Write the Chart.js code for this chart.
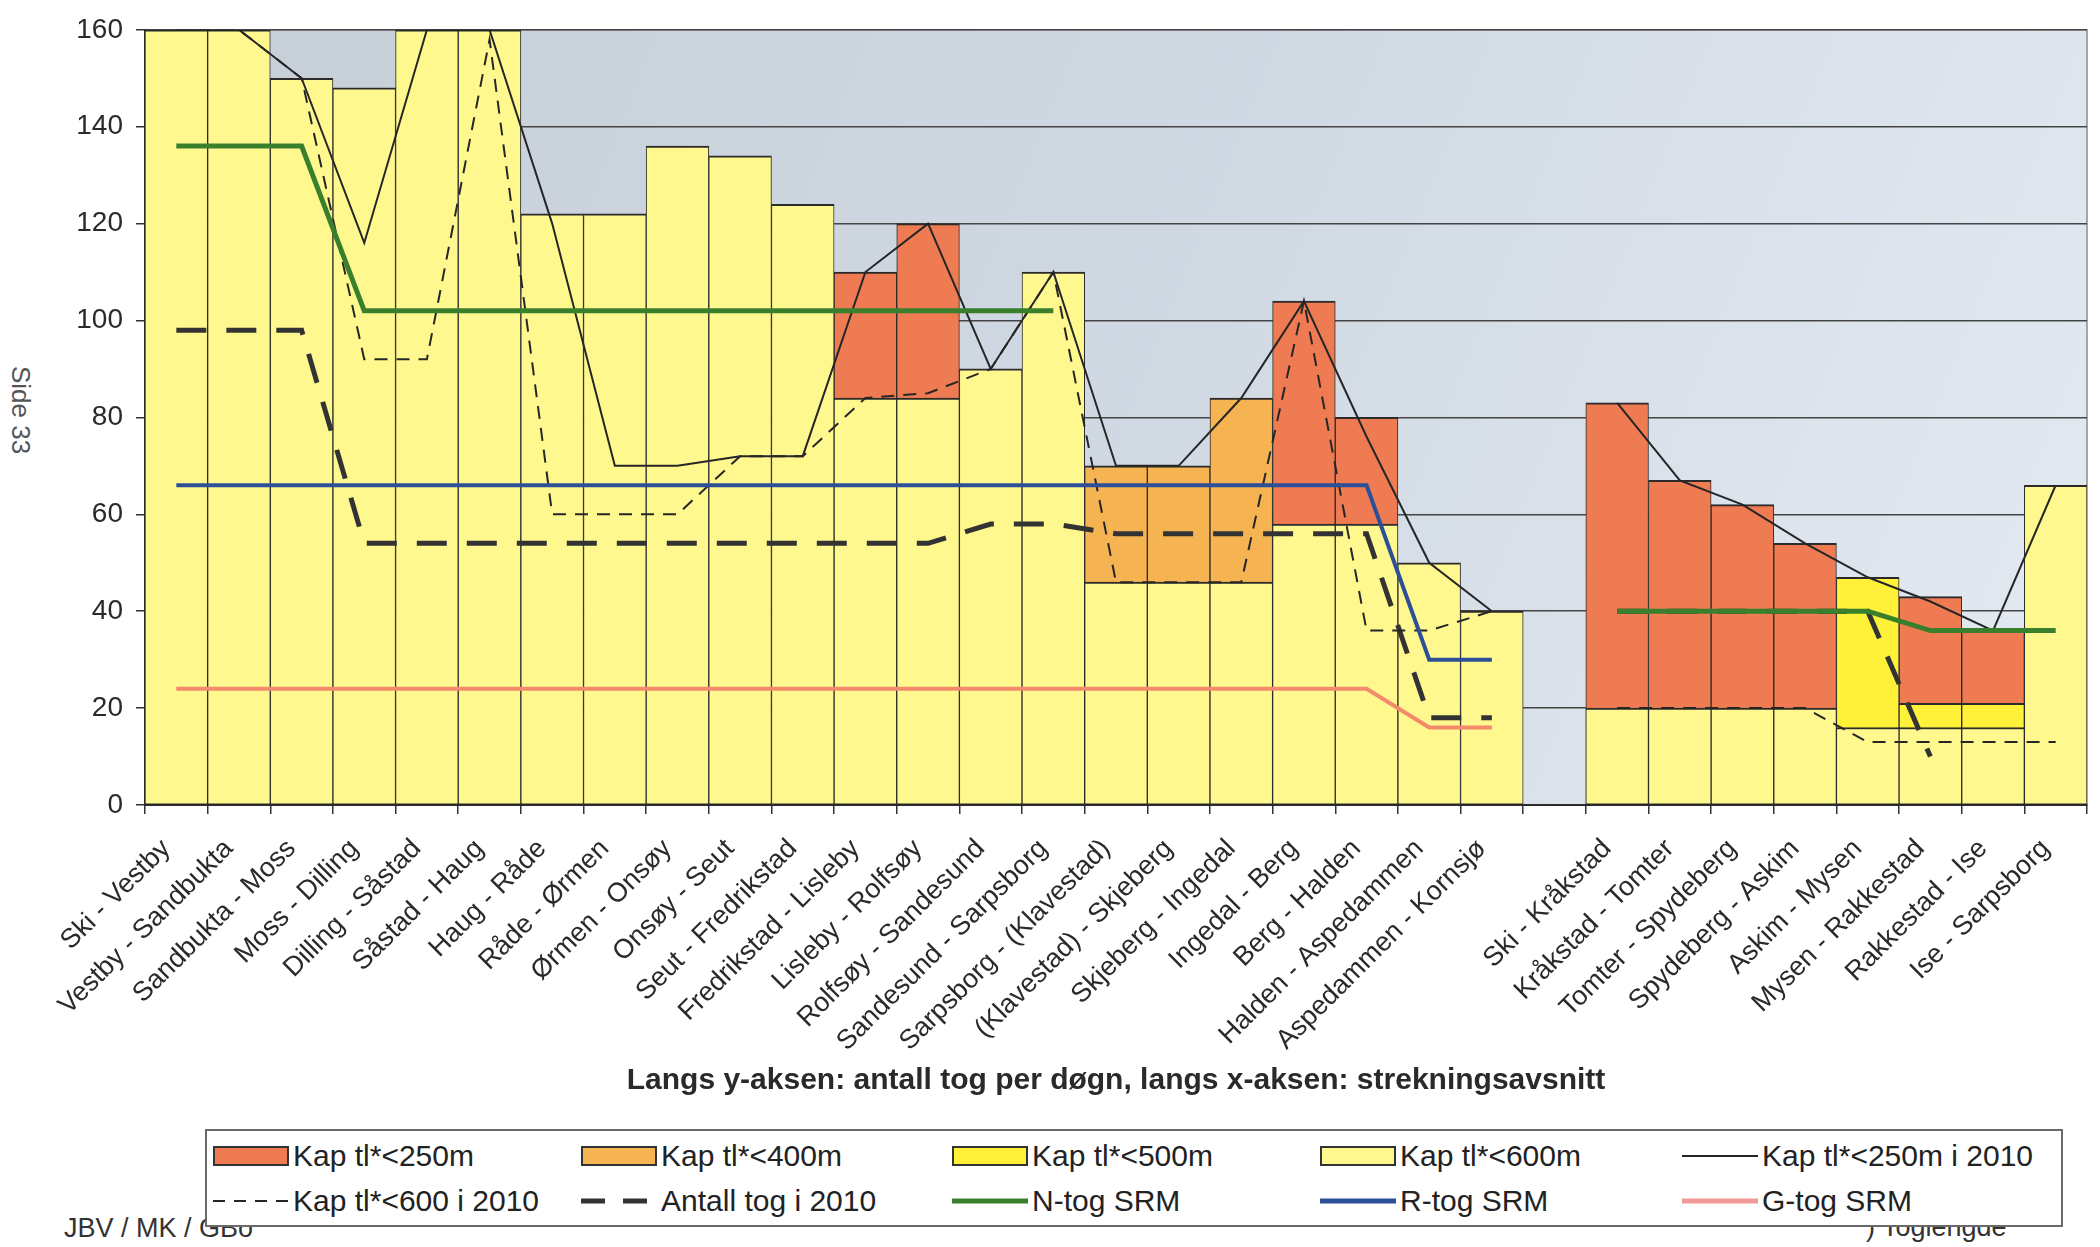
<!DOCTYPE html>
<html lang="no">
<head>
<meta charset="utf-8">
<title>Kapasitet og antall tog per strekningsavsnitt</title>
<script src="https://cdn.jsdelivr.net/npm/chart.js@4.4.1/dist/chart.umd.min.js"></script>
<style>
    html, body { margin: 0; padding: 0; background: #fff; }
    body { width: 2100px; height: 1247px; position: relative; overflow: hidden; font-family: "Liberation Sans", Arial, sans-serif; color: #222; }
    #chart { position: absolute; left: 0; top: 0; }
    .side { position: absolute; left: 5px; top: 366px; font-size: 26px; color: #555; writing-mode: vertical-rl; }
    .foot { position: absolute; font-size: 27px; color: #333; }
    #legend { position: absolute; left: 205px; top: 1129px; width: 1854px; height: 94px; border: 2px solid #6a6a6a; background: #fff; }
    .item { position: absolute; display: flex; align-items: center; font-size: 30px; white-space: nowrap; }
    .box { width: 72px; height: 16px; border: 2px solid #333; margin-right: 4px; }
    .item svg { margin-right: 4px; }
</style>
</head>
<body>
<div class="side">Side 33</div>
<div class="foot" style="left: 64px; top: 1213px;">JBV / MK / GBo</div>
<div class="foot" style="left: 1866px; top: 1212px;">) Toglengde</div>
<canvas id="chart" width="2100" height="1247"></canvas>
<div id="legend"></div>

<script>
// Strekningsavsnitt (tom kategori skiller Østfoldbanen vestre og østre linje)
const categories = [
    'Ski - Vestby', 'Vestby - Sandbukta', 'Sandbukta - Moss', 'Moss - Dilling', 'Dilling - Såstad',
    'Såstad - Haug', 'Haug - Råde', 'Råde - Ørmen', 'Ørmen - Onsøy', 'Onsøy - Seut',
    'Seut - Fredrikstad', 'Fredrikstad - Lisleby', 'Lisleby - Rolfsøy', 'Rolfsøy - Sandesund',
    'Sandesund - Sarpsborg', 'Sarpsborg - (Klavestad)', '(Klavestad) - Skjeberg', 'Skjeberg - Ingedal',
    'Ingedal - Berg', 'Berg - Halden', 'Halden - Aspedammen', 'Aspedammen - Kornsjø', '',
    'Ski - Kråkstad', 'Kråkstad - Tomter', 'Tomter - Spydeberg', 'Spydeberg - Askim',
    'Askim - Mysen', 'Mysen - Rakkestad', 'Rakkestad - Ise', 'Ise - Sarpsborg'
];

// Kapasitet (tog per døgn) for ulike toglengder
const kap250 = [null, null, null, null, null, null, null, null, null, null, null, 110, 120, null, null, null, null, null, 104, 80, null, null, null, 83, 67, 62, 54, null, 43, 36, null];
const kap400 = [null, null, null, null, null, null, null, null, null, null, null, null, null, null, null, 70, 70, 84, null, null, null, null, null, null, null, null, null, null, null, null, null];
const kap500 = [null, null, null, null, null, null, null, null, null, null, null, null, null, null, null, null, null, null, null, null, null, null, null, null, null, null, null, 47, 21, 21, null];
const kap600 = [160, 160, 150, 148, 160, 160, 122, 122, 136, 134, 124, 84, 84, 90, 110, 46, 46, 46, 58, 58, 50, 40, null, 20, 20, 20, 20, 16, 16, 16, 66];

// Situasjonen i 2010
const kap250i2010 = [160, 160, 150, 116, 160, 160, 120, 70, 70, 72, 72, 110, 120, 90, 110, 70, 70, 84, 104, 76, 50, 40, null, 83, 67, 62, 54, 47, 42, 36, 66];
const kap600i2010 = [160, 160, 150, 92, 92, 158, 60, 60, 60, 72, 72, 84, 85, 90, 110, 46, 46, 46, 104, 36, 36, 40, null, 20, 20, 20, 20, 13, 13, 13, 13];
const antallTog2010 = [98, 98, 98, 54, 54, 54, 54, 54, 54, 54, 54, 54, 54, 58, 58, 56, 56, 56, 56, 56, 18, 18, null, 40, 40, 40, 40, 40, 10, null, null];

// SRM-scenario
const nTogSRM = [136, 136, 136, 102, 102, 102, 102, 102, 102, 102, 102, 102, 102, 102, 102, null, null, null, null, null, null, null, null, 40, 40, 40, 40, 40, 36, 36, 36];
const rTogSRM = [66, 66, 66, 66, 66, 66, 66, 66, 66, 66, 66, 66, 66, 66, 66, 66, 66, 66, 66, 66, 30, 30, null, null, null, null, null, null, null, null, null];
const gTogSRM = [24, 24, 24, 24, 24, 24, 24, 24, 24, 24, 24, 24, 24, 24, 24, 24, 24, 24, 24, 24, 16, 16, null, null, null, null, null, null, null, null, null];

// y-akse
const yMin = 0;
const yMax = 160;
const yStep = 20;

const FONT = '"Liberation Sans", Arial, sans-serif';
const C = {
    red: '#ee7b52',
    orange: '#f5b352',
    yellow: '#fff03a',
    pale: '#fff88e',
    black: '#262626',
    green: '#3a7f2c',
    blue: '#2c4f98',
    salmon: '#f38a6c'
};

function barSet(label, data, color, order) {
    return {
        type: 'bar',
        label: label,
        data: data,
        backgroundColor: color,
        borderColor: '#2b2b2b',
        borderWidth: { top: 2, bottom: 1, left: 1, right: 1 },
        borderSkipped: false,
        grouped: false,
        categoryPercentage: 1,
        barPercentage: 1,
        order: order
    };
}

function lineSet(label, data, color, width, dash, order) {
    return {
        type: 'line',
        label: label,
        data: data,
        borderColor: color,
        backgroundColor: color,
        borderWidth: width,
        borderDash: dash,
        pointRadius: 0,
        tension: 0,
        spanGaps: false,
        fill: false,
        order: order
    };
}

const datasets = [
    barSet('Kap tl*<250m', kap250, C.red, 4),
    barSet('Kap tl*<400m', kap400, C.orange, 3),
    barSet('Kap tl*<500m', kap500, C.yellow, 2),
    barSet('Kap tl*<600m', kap600, C.pale, 1),
    lineSet('Kap tl*<250m i 2010', kap250i2010, C.black, 2, [], 0),
    lineSet('Kap tl*<600 i 2010', kap600i2010, C.black, 2, [13, 9], 0),
    lineSet('Antall tog i 2010', antallTog2010, '#333', 5, [30, 20], 0),
    lineSet('N-tog SRM', nTogSRM, C.green, 5, [], -1),
    lineSet('R-tog SRM', rTogSRM, C.blue, 4, [], -1),
    lineSet('G-tog SRM', gTogSRM, C.salmon, 4, [], -1)
];

// Bakgrunn i plottområdet
const plotBackground = {
    id: 'plotBackground',
    beforeDraw(chart) {
        const a = chart.chartArea;
        const ctx = chart.ctx;
        const g = ctx.createLinearGradient(a.left, a.top, a.right, a.bottom);
        g.addColorStop(0, '#c6ced7');
        g.addColorStop(0.5, '#d0d9e3');
        g.addColorStop(1, '#e4eaf2');
        ctx.save();
        ctx.fillStyle = g;
        ctx.fillRect(a.left, a.top, a.right - a.left, a.bottom - a.top);
        ctx.strokeStyle = '#8c8c8c';
        ctx.lineWidth = 1.5;
        ctx.strokeRect(a.left, a.top, a.right - a.left, a.bottom - a.top);
        ctx.restore();
    }
};

new Chart(document.getElementById('chart'), {
    type: 'bar',
    data: { labels: categories, datasets: datasets },
    plugins: [plotBackground],
    options: {
        responsive: false,
        animation: false,
        events: [],
        layout: { padding: { left: 0, right: 13, top: 21, bottom: 147 } },
        plugins: {
            legend: { display: false },
            tooltip: { enabled: false }
        },
        scales: {
            x: {
                offset: true,
                afterFit: function(scale) { scale.height = 295; },
                grid: { display: true, offset: true, drawOnChartArea: false, drawTicks: true, tickLength: 9, color: '#333', lineWidth: 1.5 },
                border: { display: true, color: '#2b2b2b', width: 2 },
                ticks: {
                    autoSkip: false,
                    minRotation: 45,
                    maxRotation: 45,
                    padding: 19,
                    labelOffset: -10,
                    color: '#2a2a2a',
                    font: { family: FONT, size: 27 }
                },
                title: {
                    display: true,
                    text: 'Langs y-aksen: antall tog per døgn, langs x-aksen: strekningsavsnitt',
                    color: '#2a2a2a',
                    font: { family: FONT, size: 30, weight: 'bold' },
                    padding: { top: 0, bottom: 1 }
                }
            },
            y: {
                min: yMin,
                max: yMax,
                afterFit: function(scale) { scale.width = 145; },
                grid: { color: '#454545', lineWidth: 1.5, tickLength: 9, tickColor: '#333' },
                border: { display: true, color: '#2b2b2b', width: 2 },
                ticks: {
                    stepSize: yStep,
                    padding: 13,
                    color: '#2a2a2a',
                    font: { family: FONT, size: 28 }
                }
            }
        }
    }
});

// Forklaring (to rader, fem kolonner)
const legendItems = [
    { label: 'Kap tl*<250m', kind: 'box', color: C.red, x: 6, y: 8 },
    { label: 'Kap tl*<400m', kind: 'box', color: C.orange, x: 374, y: 8 },
    { label: 'Kap tl*<500m', kind: 'box', color: C.yellow, x: 745, y: 8 },
    { label: 'Kap tl*<600m', kind: 'box', color: C.pale, x: 1113, y: 8 },
    { label: 'Kap tl*<250m i 2010', kind: 'line', color: C.black, width: 2, dash: '', x: 1475, y: 8 },
    { label: 'Kap tl*<600 i 2010', kind: 'line', color: C.black, width: 2, dash: '12 9', x: 6, y: 53 },
    { label: 'Antall tog i 2010', kind: 'line', color: '#333', width: 5, dash: '24 18', x: 374, y: 53 },
    { label: 'N-tog SRM', kind: 'line', color: C.green, width: 5, dash: '', x: 745, y: 53 },
    { label: 'R-tog SRM', kind: 'line', color: C.blue, width: 5, dash: '', x: 1113, y: 53 },
    { label: 'G-tog SRM', kind: 'line', color: '#f29a98', width: 5, dash: '', x: 1475, y: 53 }
];

const legendEl = document.getElementById('legend');
legendItems.forEach(function(it) {
    const div = document.createElement('div');
    div.className = 'item';
    div.style.left = it.x + 'px';
    div.style.top = it.y + 'px';
    let swatch;
    if (it.kind === 'box') {
        swatch = `<span class="box" style="background:${it.color}"></span>`;
    } else {
        swatch = `<svg width="76" height="20"><line x1="0" y1="10" x2="76" y2="10" stroke="${it.color}" stroke-width="${it.width}" stroke-dasharray="${it.dash}"/></svg>`;
    }
    div.innerHTML = swatch + `<span>${it.label}</span>`;
    legendEl.appendChild(div);
});
</script>
</body>
</html>
